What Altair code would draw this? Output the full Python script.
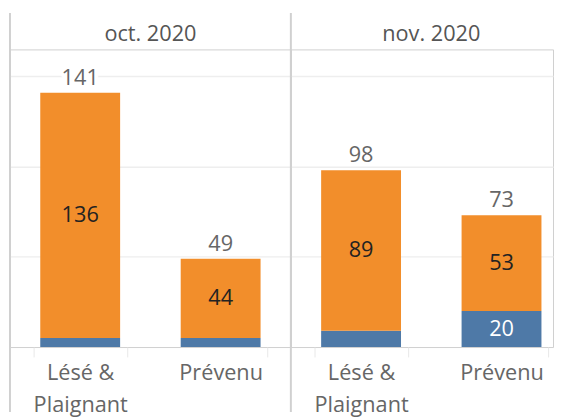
import altair as alt
import pandas as pd

months = ["oct. 2020", "nov. 2020"]
categories = ["Lésé & Plaignant", "Prévenu"]
series = ["Série bleue", "Série orange"]
blue_values = [5, 5, 9, 20]      # oct L&P, oct Prévenu, nov L&P, nov Prévenu
orange_values = [136, 44, 89, 53]
grid_values = [50, 100, 150]

rows = []
i = 0
for m in months:
    for c in categories:
        rows.append({"mois": m, "categorie": c, "serie": series[0], "ord": 0, "valeur": blue_values[i]})
        rows.append({"mois": m, "categorie": c, "serie": series[1], "ord": 1, "valeur": orange_values[i]})
        i += 1
df = pd.DataFrame(rows)

FONT = "Open Sans"
YMAX = 165
HEIGHT = 302
ONE_ROW = "datum.ord == 1 && datum.categorie == 'Prévenu'"


def panel(month, width, pad_outer, align, title_x):
    x_scale = alt.Scale(paddingInner=1 / 3, paddingOuter=pad_outer, align=align)
    x_enc = alt.X(
        "categorie:N",
        sort=categories,
        scale=x_scale,
        axis=alt.Axis(
            title=None, labelAngle=0, labelFont=FONT, labelFontSize=22,
            labelColor="#666666", labelPadding=6, labelLineHeight=32,
            labelBaseline="top",
            labelExpr="datum.value == 'Lésé & Plaignant' ? ['Lésé &', 'Plaignant'] : datum.label",
            ticks=True, tickBand="extent", tickSize=10, tickColor="#e8e8e8",
            domain=False, grid=False,
        ),
    )
    x_plain = alt.X("categorie:N", sort=categories, scale=x_scale)
    y_scale = alt.Scale(domain=[0, YMAX], nice=False)

    bars = alt.Chart().mark_bar(width=alt.RelativeBandSize(0.853)).encode(
        x=x_enc,
        y=alt.Y(
            "valeur:Q", stack="zero", scale=y_scale,
            axis=alt.Axis(title=None, labels=False, ticks=False, domain=False,
                          grid=True, values=grid_values,
                          gridColor="#eeeeee", gridWidth=1.5),
        ),
        color=alt.Color("serie:N", scale=alt.Scale(domain=series, range=["#4E79A7", "#F28E2B"]), legend=None),
        order=alt.Order("ord:Q"),
    )

    seg = alt.Chart().transform_stack(
        stack="valeur", as_=["y0", "y1"], groupby=["mois", "categorie"],
        sort=[alt.SortField("ord")],
    ).transform_calculate(
        mid="(datum.y0 + datum.y1) / 2"
    ).transform_filter("datum.valeur >= 15")

    seg_text = seg.mark_text(font=FONT, fontSize=22, baseline="middle").encode(
        x=x_plain,
        y=alt.Y("mid:Q", scale=y_scale),
        text="valeur:Q",
        color=alt.condition(alt.datum.serie == series[0], alt.value("white"), alt.value("#222222")),
    )

    tot = alt.Chart().transform_aggregate(
        total="sum(valeur)", groupby=["mois", "categorie"]
    )
    tot_halo = tot.mark_text(font=FONT, fontSize=22, baseline="alphabetic", dy=-8,
                             stroke="white", strokeWidth=8, color="white").encode(
        x=x_plain, y=alt.Y("total:Q", scale=y_scale), text="total:Q",
    )
    tot_text = tot.mark_text(font=FONT, fontSize=22, baseline="alphabetic", dy=-8,
                             color="#666666").encode(
        x=x_plain, y=alt.Y("total:Q", scale=y_scale), text="total:Q",
    )

    sep = alt.Chart().transform_filter(ONE_ROW).mark_rule(
        color="#d0d0d0", strokeWidth=2
    ).encode(
        x=alt.value(0), y=alt.value(-37), y2=alt.value(368)
    )

    header = alt.Chart().transform_filter(ONE_ROW).mark_text(
        font=FONT, fontSize=22, color="#555555", baseline="alphabetic", align="center"
    ).encode(
        x=alt.value(title_x), y=alt.value(-9), text="mois:N"
    )

    return alt.layer(
        bars, tot_halo, tot_text, seg_text, sep, header, data=df
    ).transform_filter(
        alt.datum.mois == month
    ).properties(width=width, height=HEIGHT)


chart = alt.hconcat(
    panel(months[0], 285, 1 / 6, 0.5, 142.5),
    panel(months[1], 266, 0.1, 0.8333, 142.5),
    spacing=0, bounds="flush",
).resolve_scale(
    x="independent", y="independent"
).properties(
    padding={"left": 0, "top": 0, "right": 0, "bottom": 0}
).configure_view(
    stroke="#cfcfcf", strokeWidth=1
)

chart.save("out.html", embed_options={"renderer": "svg", "actions": False})
